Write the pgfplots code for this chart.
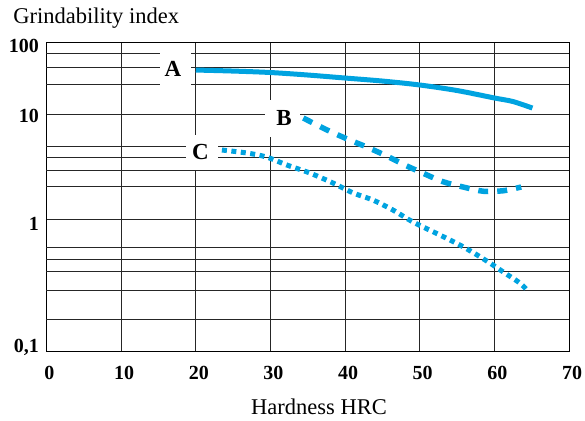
\documentclass[border=0pt]{standalone}
\usepackage{pgfplots}
\pgfplotsset{compat=1.18}
\usepackage{fontspec}
\setmainfont{Liberation Serif}
\definecolor{curve}{RGB}{0,163,224}
\begin{document}
\begin{tikzpicture}
\useasboundingbox (-46.5bp,-70bp) rectangle (538.5bp,351bp);
\begin{axis}[
  scale only axis, width=522.5bp, height=309bp,
  xmin=0, xmax=70, ymin=0.1, ymax=100,
  y coord trafo/.code={%
    \pgfmathparse{ln(#1)/ln(10)}%
    \pgfmathsetmacro\myL{\pgfmathresult}%
    \pgfmathparse{\myL<0 ? 132*(\myL+1) : (\myL<1 ? 132+105*\myL : 237+72*(\myL-1))}%
  },
  y coord inv trafo/.code={%
    \pgfmathsetmacro\myT{#1}%
    \pgfmathparse{\myT<132 ? 10^(\myT/132-1) : (\myT<237 ? 10^((\myT-132)/105) : 10^(1+(\myT-237)/72))}%
  },
  xtick={0,10,20,30,40,50,60,70},
  xticklabels={0,10,20,30,40,50,60,70},
  ytick={0.1,1,10,100},
  yticklabels={{\raisebox{8.5bp}{0,1}},{\raisebox{-1bp}{1}},{\raisebox{1.5bp}{10}},100},
  extra y ticks={0.172,0.29,0.404,0.498,0.614,2.06,2.93,3.89,4.96,26.1,45,70.3},
  extra y tick labels={},
  extra y tick style={grid=major},
  grid=major,
  major grid style={black!85, line width=0.9bp},
  axis line style={black, line width=1bp},
  major tick length=0pt,
  tick label style={font=\fontsize{20bp}{24bp}\selectfont\bfseries},
  xticklabel style={anchor=base, yshift=-28bp, xshift=3bp, inner sep=0pt},
  yticklabel style={anchor=base east, xshift=-7.5bp, yshift=-10bp, inner sep=0pt},
  xlabel={Hardness HRC},
  ylabel={Grindability index},
  every axis x label/.style={at={(axis description cs:0.5215,-0.2039)}, anchor=base,
    font=\fontsize{22.5bp}{27bp}\selectfont},
  every axis y label/.style={at={(axis description cs:-0.0699,1.0583)}, anchor=base west,
    font=\fontsize{22.5bp}{27bp}\selectfont},
]
% A
\addplot[curve, line width=5bp, smooth, tension=0.5] coordinates {
 (20,40.8) (25,39.5) (30,37.7) (35,34.8) (40,31.6) (45,28.7) (50,25.3)
 (55,21.2) (60,16.7) (62.5,14.9) (65.1,12.1)};
% B
\addplot[curve, line width=5.5bp, dash pattern=on 10bp off 9bp, smooth, tension=0.5] coordinates {
 (34.4,9.16) (37.6,7.04) (40.3,5.78) (42.9,4.85) (45.6,3.98) (48.0,3.27)
 (50.4,2.74) (53.1,2.27) (55.8,2.02) (58.5,1.84) (61.2,1.86) (63.6,2.02)};
% C
\addplot[curve, line width=5bp, dash pattern=on 5bp off 4.5bp, smooth, tension=0.5] coordinates {
 (23.5,4.54) (26.9,4.25) (29.5,3.89) (32.2,3.27) (35.3,2.74) (38.4,2.20)
 (41.1,1.77) (43.7,1.52) (46.4,1.22) (49.1,0.95) (52.7,0.757) (55.4,0.635)
 (57.7,0.534) (59.8,0.449) (61.2,0.397) (63.4,0.328) (64.5,0.285)};
\end{axis}
\fill[white] (113.5bp,262bp) rectangle (144.5bp,303bp);
\fill[white] (218.5bp,214bp) rectangle (253.5bp,251bp);
\fill[white] (139.5bp,181bp) rectangle (171.5bp,216bp);
\node[font=\fontsize{23bp}{27bp}\selectfont\bfseries, inner sep=0pt] at (126.5bp,282.3bp) {A};
\node[font=\fontsize{23bp}{27bp}\selectfont\bfseries, inner sep=0pt] at (237.5bp,233bp) {B};
\node[font=\fontsize{23bp}{27bp}\selectfont\bfseries, inner sep=0pt] at (154bp,199.3bp) {C};
\end{tikzpicture}
\end{document}
